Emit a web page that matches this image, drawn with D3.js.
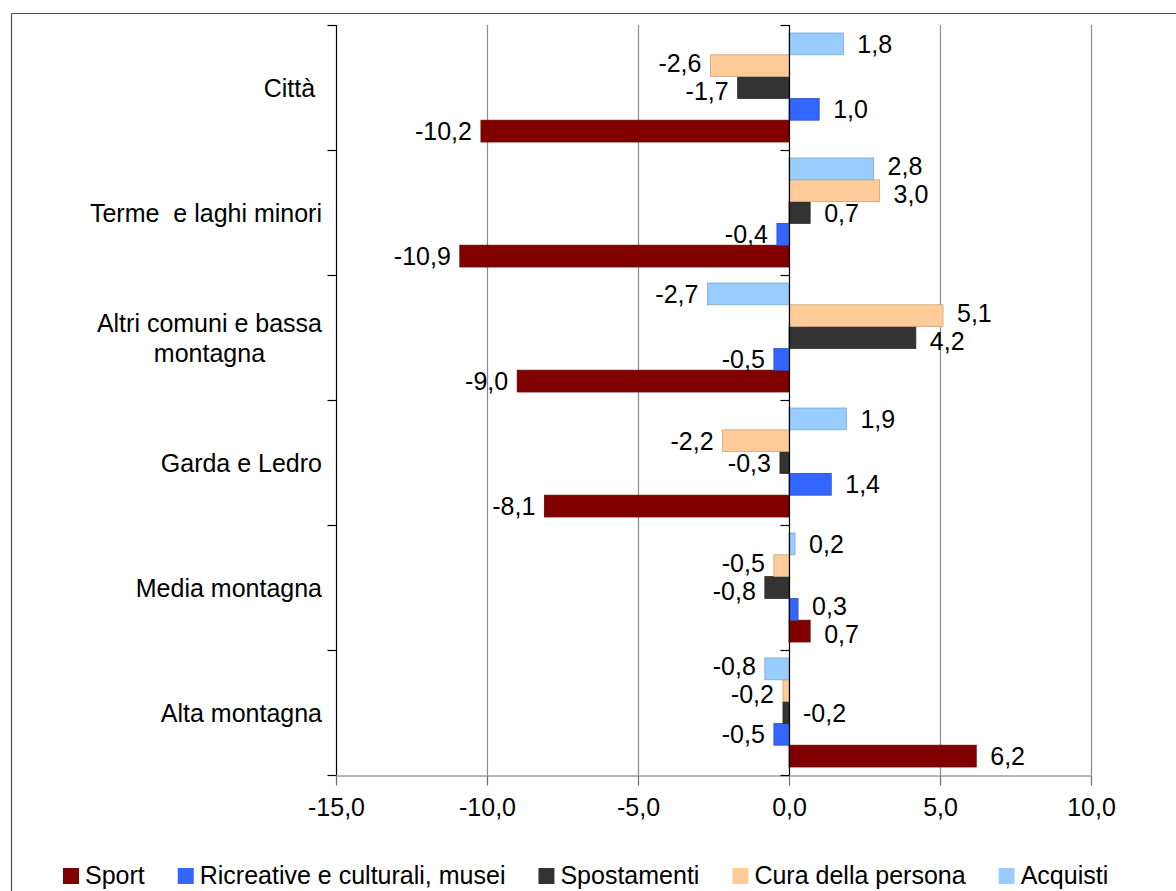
<!DOCTYPE html>
<html>
<head>
<meta charset="utf-8">
<script src="https://cdn.jsdelivr.net/npm/d3@7"></script>
<style>
  html, body { margin: 0; padding: 0; background: #fff; }
  svg { display: block; font-family: "Liberation Sans", Arial, sans-serif; }
  text { white-space: pre; }
</style>
</head>
<body>
<svg id="chart" width="1176" height="891"></svg>
<script>
// ---- data ----
const categories = ["Città ", "Terme  e laghi minori", "Altri comuni e bassa montagna", "Garda e Ledro", "Media montagna", "Alta montagna"];
const seriesNames = ["Sport", "Ricreative e culturali, musei", "Spostamenti", "Cura della persona", "Acquisti"];
const sport       = [-10.2, -10.9, -9.0, -8.1, 0.7, 6.2];
const ricreative  = [1.0, -0.4, -0.5, 1.4, 0.3, -0.5];
const spostamenti = [-1.7, 0.7, 4.2, -0.3, -0.8, -0.2];
const cura        = [-2.6, 3.0, 5.1, -2.2, -0.5, -0.2];
const acquisti    = [1.8, 2.8, -2.7, 1.9, 0.2, -0.8];
const xTicks = [-15, -10, -5, 0, 5, 10];
const seriesColors = ["#800000", "#3366FF", "#333333", "#FFCC99", "#99CCFF"];

const seriesValues = [sport, ricreative, spostamenti, cura, acquisti];

// ---- layout ----
const svg = d3.select("#chart");
const plot = { left: 336, right: 1091, top: 25, bottom: 775 };
const fontSize = 25;

const locale = d3.formatLocale({ decimal: ",", thousands: ".", grouping: [3], currency: ["", "€"], minus: "-" });
const fmt = locale.format(".1f");

const x = d3.scaleLinear().domain([-15, 10]).range([plot.left, plot.right]);
const y = d3.scaleBand().domain(categories).range([plot.top, plot.bottom])
  .paddingInner(0.128).paddingOuter(0.064);
const innerOrder = seriesNames.slice().reverse(); // Acquisti on top, Sport at bottom
const yInner = d3.scaleBand().domain(innerOrder).range([0, y.bandwidth()]);

const measurer = svg.append("text").attr("font-size", fontSize).attr("visibility", "hidden");
function textW(s) { measurer.text(s); return measurer.node().getComputedTextLength(); }

// outer frame (partially visible)
svg.append("line").attr("x1", 11.5).attr("x2", 1176).attr("y1", 13.5).attr("y2", 13.5)
  .attr("stroke", "#505050").attr("stroke-width", 1.2);
svg.append("line").attr("x1", 11.5).attr("x2", 11.5).attr("y1", 13.5).attr("y2", 891)
  .attr("stroke", "#505050").attr("stroke-width", 1.2);

// gridlines
svg.append("g").selectAll("line")
  .data(xTicks.filter(t => t !== 0 && t !== -15))
  .join("line")
  .attr("x1", d => Math.round(x(d)) + 0.5).attr("x2", d => Math.round(x(d)) + 0.5)
  .attr("y1", plot.top).attr("y2", plot.bottom)
  .attr("stroke", "#8c8c8c").attr("stroke-width", 1.2);

// category axis lines with boundary ticks
const boundaries = d3.range(categories.length + 1).map(i => plot.top + i * y.step());
function catAxis(xv) {
  const g = svg.append("g");
  const xp = Math.round(x(xv)) + 0.5;
  g.append("line").attr("x1", xp).attr("x2", xp).attr("y1", plot.top).attr("y2", plot.bottom)
    .attr("stroke", "#000").attr("stroke-width", 1.2);
  g.selectAll("line.t").data(boundaries).join("line").attr("class", "t")
    .attr("x1", xp - 9).attr("x2", xp).attr("y1", d => Math.round(d) + 0.5).attr("y2", d => Math.round(d) + 0.5)
    .attr("stroke", "#000").attr("stroke-width", 1.2);
}
catAxis(-15);

// bottom x axis
const xAxis = d3.axisBottom(x).tickValues(xTicks).tickFormat(fmt).tickSize(10).tickSizeOuter(0);
const gx = svg.append("g").attr("transform", `translate(0,${plot.bottom + 0.5})`).call(xAxis);
gx.select(".domain").attr("stroke", "#6e6e6e").attr("stroke-width", 1.2);
gx.selectAll(".tick line").attr("stroke", "#6e6e6e").attr("stroke-width", 1.2);
gx.selectAll(".tick text").attr("font-size", fontSize).attr("font-family", "Liberation Sans, Arial, sans-serif")
  .attr("fill", "#000").attr("dy", 0).attr("y", 40);

// bars
const flat = [];
categories.forEach((c, ci) => {
  seriesNames.forEach((s, si) => {
    flat.push({ cat: c, series: s, value: seriesValues[si][ci], color: seriesColors[si] });
  });
});

const barG = svg.append("g");
barG.selectAll("rect").data(flat).join("rect")
  .attr("x", d => x(Math.min(0, d.value)))
  .attr("width", d => Math.abs(x(d.value) - x(0)))
  .attr("y", d => y(d.cat) + yInner(d.series))
  .attr("height", yInner.bandwidth())
  .attr("fill", d => d.color)
  .attr("stroke", d => d3.color(d.color).darker(0.6))
  .attr("stroke-width", 0.8);

// zero axis on top of bars
catAxis(0);

// ---- data label layout (outside end, with simple collision avoidance) ----
const posGap = 14, negGap = 9, minSep = 28;
const labels = [];
categories.forEach(c => {
  const items = innerOrder.map(s => {
    const d = flat.find(f => f.cat === c && f.series === s);
    return { d, text: fmt(d.value), w: textW(fmt(d.value)), side: d.value >= 0 ? 1 : -1,
             cy: y(c) + yInner(s) + yInner.bandwidth() / 2 };
  });
  function place(it) {
    if (it.side > 0) { it.x0 = (it.d.value >= 0 ? x(it.d.value) : x(0)) + posGap; it.x1 = it.x0 + it.w; }
    else { it.x1 = (it.d.value < 0 ? x(it.d.value) : x(0)) - negGap; it.x0 = it.x1 - it.w; }
  }
  items.forEach(place);
  const xOverlap = (a, b) => a.x0 < b.x1 && b.x0 < a.x1;
  // find chains of adjacent labels on same side that overlap horizontally
  let chain = [items[0]];
  const chains = [];
  for (let i = 1; i < items.length; i++) {
    const prev = items[i - 1], cur = items[i];
    if (prev.side === cur.side && xOverlap(prev, cur)) chain.push(cur);
    else { chains.push(chain); chain = [cur]; }
  }
  chains.push(chain);
  chains.forEach(ch => {
    if (ch.length >= 3) {
      // move the smallest value (last among equals) to the other side of the axis
      let best = ch[1];
      ch.slice(1, -1).forEach(it => { if (Math.abs(it.d.value) <= Math.abs(best.d.value)) best = it; });
      best.side = -best.side;
      place(best);
    }
  });
  // vertical relaxation for remaining horizontally-overlapping labels
  for (let iter = 0; iter < 60; iter++) {
    for (let i = 0; i < items.length; i++) {
      for (let j = i + 1; j < items.length; j++) {
        const a = items[i], b = items[j];
        if (!xOverlap(a, b)) continue;
        const gap = b.cy - a.cy;
        if (gap < minSep) { const dd = (minSep - gap) / 2; a.cy -= dd; b.cy += dd; }
      }
    }
  }
  items.forEach(it => labels.push(it));
});

svg.append("g").selectAll("text").data(labels).join("text")
  .attr("x", d => d.x0)
  .attr("y", d => d.cy)
  .attr("dy", "0.36em")
  .attr("text-anchor", "start")
  .attr("font-size", fontSize)
  .attr("fill", "#000")
  .text(d => d.text);

// category labels (right aligned, wrapped if long)
const catRight = 322;
const catG = svg.append("g").attr("font-size", fontSize).attr("fill", "#000");
categories.forEach(c => {
  const words = c.trim().split(" ");
  const maxW = 250;
  let lines = [];
  if (textW(c) <= maxW) {
    lines = [c];
  } else {
    let cur = "";
    words.forEach(w => {
      const t = cur ? cur + " " + w : w;
      if (textW(t) > maxW && cur) { lines.push(cur); cur = w; } else { cur = t; }
    });
    if (cur) lines.push(cur);
  }
  const lh = 30;
  const cy = y(c) + y.bandwidth() / 2;
  const startY = cy - (lines.length - 1) * lh / 2;
  if (lines.length === 1) {
    catG.append("text").attr("x", catRight).attr("y", startY).attr("dy", "0.36em")
      .attr("text-anchor", "end").text(lines[0]);
  } else {
    const mw = d3.max(lines, l => textW(l));
    lines.forEach((l, i) => {
      catG.append("text").attr("x", catRight - mw / 2).attr("y", startY + i * lh).attr("dy", "0.36em")
        .attr("text-anchor", "middle").text(l);
    });
  }
});

// legend
const legendY = 875;
const legendG = svg.append("g").attr("font-size", fontSize);
let lx = 63;
const legendGap = 33;
seriesNames.forEach((s, i) => {
  legendG.append("rect").attr("x", lx).attr("y", legendY - 7).attr("width", 16).attr("height", 16)
    .attr("fill", seriesColors[i]);
  const t = legendG.append("text").attr("x", lx + 22).attr("y", legendY).attr("dy", "0.36em")
    .attr("fill", "#000").text(s);
  lx = lx + 22 + t.node().getComputedTextLength() + legendGap;
});
measurer.remove();
</script>
</body>
</html>
